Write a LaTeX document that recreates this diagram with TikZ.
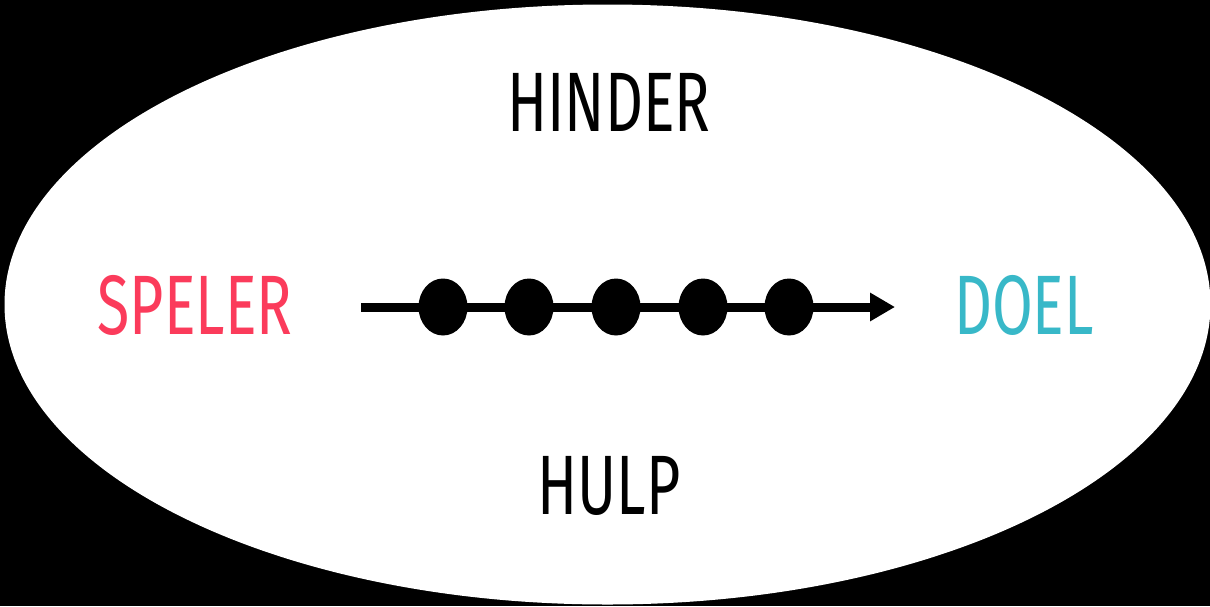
\documentclass[tikz,border=0pt]{standalone}
\usepackage{fontspec}
\setmainfont{Fira Sans}[FakeStretch=0.70]
\usetikzlibrary{shapes.geometric,arrows.meta}
\definecolor{spelerred}{HTML}{FB3B5B}
\definecolor{doelteal}{HTML}{38B8C8}
\begin{document}
\begin{tikzpicture}[
  x=0.02cm, y=-0.02cm,
  word/.style={inner sep=0pt, font=\fontsize{48}{52}\selectfont},
  dot/.style={ellipse, fill=black, inner sep=0pt, minimum width=0.98cm, minimum height=1.14cm},
  path/.style={line width=0.18cm, -{Triangle[length=0.5cm, width=0.54cm]}}
]
\useasboundingbox (0,0) rectangle (1210,606);
\fill[black] (0,0) rectangle (1210,606);
\fill[white] (607.5,304.5) ellipse [x radius=603, y radius=300];

\node[word, text=spelerred] (speler) at (195,305) {SPELER};
\node[word, text=doelteal] (doel) at (1024,305) {DOEL};
\node[word] (hinder) at (609,102) {HINDER};
\node[word] (hulp) at (609,486) {HULP};

\coordinate (start) at (361,307);
\coordinate (end) at (895,307);
\draw[path] (start) -- (end);

\node[dot] (d1) at (443,307) {};
\node[dot] (d2) at (529,307) {};
\node[dot] (d3) at (616,307) {};
\node[dot] (d4) at (703,307) {};
\node[dot] (d5) at (789,307) {};
\end{tikzpicture}
\end{document}
